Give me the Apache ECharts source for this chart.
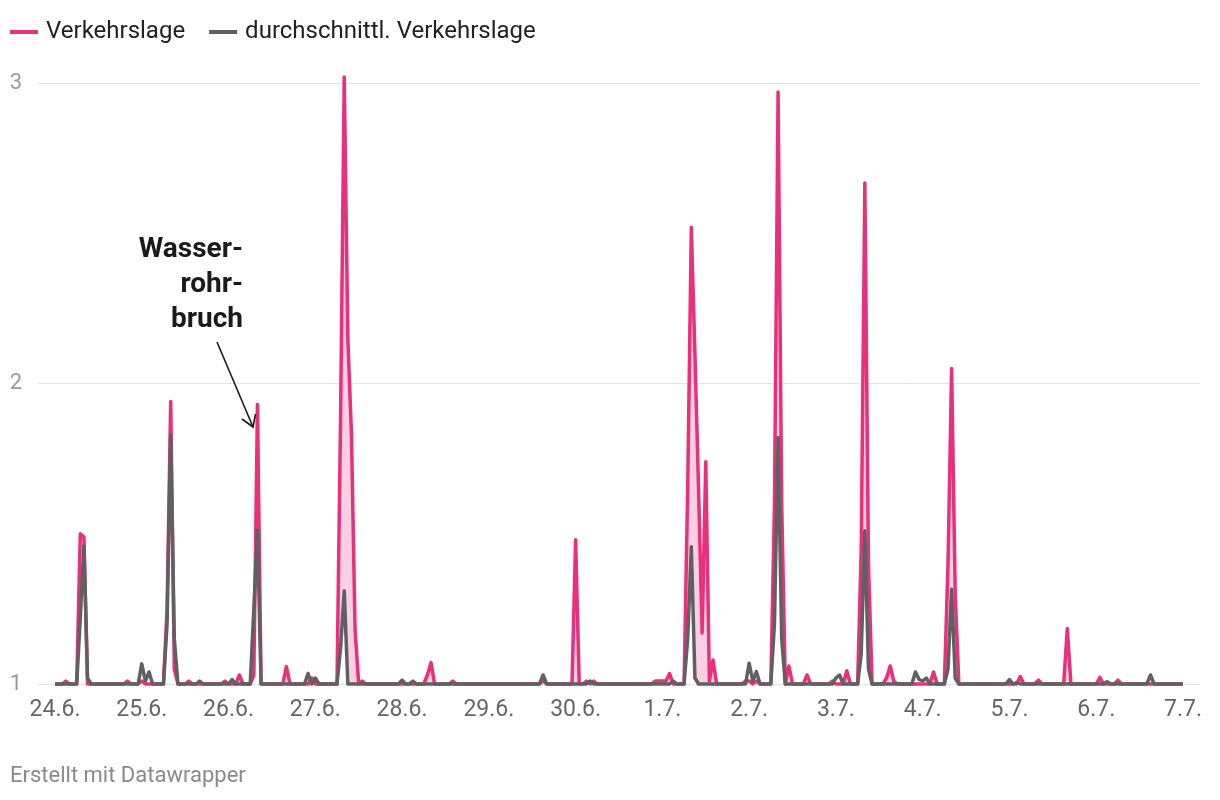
<!DOCTYPE html>
<html>
<head>
<meta charset="utf-8">
<script src="https://cdn.jsdelivr.net/npm/echarts@6/dist/echarts.min.js"></script>
<style>
  html, body { margin: 0; padding: 0; background: #ffffff; }
  #chart { width: 1220px; height: 800px; }
</style>
</head>
<body>
<div id="chart"></div>
<script>
// x-axis tick labels, one per day (midnight)
const tickLabels = ['24.6.','25.6.','26.6.','27.6.','28.6.','29.6.','30.6.','1.7.','2.7.','3.7.','4.7.','5.7.','6.7.','7.7.'];

// hourly values, 24.6. 00:00 .. 7.7. 00:00 (one line = one day, hours 0..23)
const verkehrslage = [
  1,1,1,1.01,1,1,1,1.50,1.49,1,1,1,1,1,1,1,1,1,1,1,1.01,1,1,1,            // 24.6.
  1.01,1,1,1,1,1,1,1.25,1.94,1.05,1,1,1,1.01,1,1,1,1,1,1,1,1,1,1.01,     // 25.6.
  1,1,1,1.03,1,1,1,1.03,1.93,1,1,1,1,1,1,1,1.058,1,1,1,1,1,1,1.02,       // 26.6.
  1,1,1,1,1,1,1,1.9,3.02,2.15,1.83,1.18,1,1.01,1,1,1,1,1,1,1,1,1,1,      // 27.6.
  1,1,1,1,1,1,1,1.03,1.071,1,1,1,1,1,1.01,1,1,1,1,1,1,1,1,1,             // 28.6.
  1,1,1,1,1,1,1,1,1,1,1,1,1,1,1,1.01,1,1,1,1,1,1,1,1,                    // 29.6.
  1.48,1,1,1.01,1,1.01,1,1,1,1,1,1,1,1,1,1,1,1,1,1,1,1,1.01,1.01,        // 30.6.
  1.01,1.01,1.035,1,1,1,1,1.65,2.52,2.1,1.65,1.17,1.74,1.01,1.08,1,1,1,1,1,1,1,1,1.01, // 1.7.
  1.01,1,1.01,1,1,1,1,1.6,2.97,1.6,1,1.06,1,1,1,1,1.03,1,1,1,1,1,1,1.01, // 2.7.
  1,1,1,1.044,1,1,1,1.45,2.667,1.4,1,1,1,1,1.02,1.06,1.01,1,1,1,1,1,1,1, // 3.7.
  1,1,1,1.04,1,1,1,1.4,2.05,1.3,1,1,1,1,1,1,1,1,1,1,1,1,1,1,             // 4.7.
  1,1,1,1.025,1,1,1,1,1.013,1,1,1,1,1,1,1,1.185,1,1,1,1,1,1,1,           // 5.7.
  1,1.022,1,1,1,1,1.013,1,1,1,1,1,1,1,1,1,1,1,1,1,1,1,1,1,               // 6.7.
  1                                                                      // 7.7.
];
const durchschnitt = [
  1,1,1,1,1,1,1,1.22,1.46,1.02,1,1,1,1,1,1,1,1,1,1,1,1,1,1,              // 24.6.
  1.067,1.01,1.04,1,1,1,1,1.2,1.83,1.15,1,1,1,1,1,1,1.01,1,1,1,1,1,1,1,  // 25.6.
  1,1.015,1,1,1,1,1,1.25,1.51,1,1,1,1,1,1,1,1,1,1,1,1,1,1.035,1,         // 26.6.
  1.02,1,1,1,1,1,1,1.12,1.31,1,1,1,1,1,1,1,1,1,1,1,1,1,1,1,              // 27.6.
  1.013,1,1,1.01,1,1,1,1,1,1,1,1,1,1,1,1,1,1,1,1,1,1,1,1,                // 28.6.
  1,1,1,1,1,1,1,1,1,1,1,1,1,1,1,1.03,1,1,1,1,1,1,1,1,                    // 29.6.
  1,1,1,1,1.01,1,1,1,1,1,1,1,1,1,1,1,1,1,1,1,1,1,1,1,                    // 30.6.
  1,1,1,1.01,1,1,1,1.15,1.457,1.02,1,1,1,1,1,1,1,1,1,1,1,1,1,1,          // 1.7.
  1.069,1.01,1.041,1,1,1,1,1.2,1.82,1.15,1,1,1,1,1,1,1,1,1,1,1,1,1,1,    // 2.7.
  1.02,1.03,1,1,1,1,1,1.1,1.51,1.05,1,1,1,1,1,1,1,1,1,1,1,1,1.04,1.015,  // 3.7.
  1.01,1.02,1,1,1,1,1,1.05,1.315,1.02,1,1,1,1,1,1,1,1,1,1,1,1,1,1,       // 4.7.
  1.015,1,1.005,1,1,1,1,1,1,1,1,1,1,1,1,1,1,1,1,1,1,1,1,1,               // 5.7.
  1,1,1,1.008,1,1,1,1,1,1,1,1,1,1,1,1.03,1,1,1,1,1,1,1,1,                // 6.7.
  1                                                                      // 7.7.
];

const PINK = '#e8307b';
const GRAY = '#606060';
const FILL = '#f8cfe3';
const FONT = 'Roboto, "Noto Sans", sans-serif';

const pinkData = verkehrslage.map((v, i) => [i, v]);
const grayData = durchschnitt.map((v, i) => [i, v]);
const lastHour = verkehrslage.length - 1;

const chart = echarts.init(document.getElementById('chart'), null, { renderer: 'canvas' });
chart.setOption({
  animation: false,
  backgroundColor: '#ffffff',
  textStyle: { fontFamily: FONT },
  legend: {
    left: 10, top: 20, padding: 0,
    icon: 'rect', itemWidth: 28, itemHeight: 4, itemGap: 24,
    data: ['Verkehrslage', 'durchschnittl. Verkehrslage'],
    textStyle: { fontFamily: FONT, fontSize: 24, color: '#222', padding: [0, 0, 0, 3] },
    selectedMode: false
  },
  grid: [
    { left: 55, right: 37, top: 83, bottom: 116 },
    { left: 38, right: 20, top: 83, bottom: 116 }
  ],
  xAxis: [
    {
      type: 'value', gridIndex: 0, min: 0, max: lastHour, interval: 24,
      axisLine: { show: false }, axisTick: { show: false }, splitLine: { show: false },
      axisLabel: {
        color: '#666', fontSize: 23, fontFamily: FONT, margin: 15,
        formatter: v => tickLabels[Math.round(v / 24)] || ''
      }
    },
    { type: 'value', gridIndex: 1, min: 0, max: 1, show: false }
  ],
  yAxis: [
    { type: 'value', gridIndex: 0, min: 1, max: 3, interval: 1, show: false },
    {
      type: 'value', gridIndex: 1, min: 1, max: 3, interval: 1,
      axisLine: { show: false }, axisTick: { show: false },
      splitLine: { show: true, lineStyle: { color: '#e3e3e3', width: 1 } },
      axisLabel: { color: '#9a9a9a', fontSize: 22, fontFamily: FONT, margin: 16 }
    }
  ],
  series: [
    {
      // light pink area under the Verkehrslage line
      name: 'fillPink', type: 'line', data: pinkData, symbol: 'none',
      lineStyle: { opacity: 0 }, areaStyle: { color: FILL, opacity: 1, origin: 'start' },
      silent: true, clip: false, z: 1
    },
    {
      // white mask under the average line, so only the gap between the lines stays filled
      name: 'maskGray', type: 'line', data: grayData, symbol: 'none',
      lineStyle: { opacity: 0 }, areaStyle: { color: '#ffffff', opacity: 1, origin: 'start' },
      silent: true, clip: false, z: 1
    },
    {
      name: 'Verkehrslage', type: 'line', data: pinkData, symbol: 'none',
      color: PINK, lineStyle: { color: PINK, width: 3.5, join: 'round' }, clip: false, z: 2
    },
    {
      name: 'durchschnittl. Verkehrslage', type: 'line', data: grayData, symbol: 'none',
      color: GRAY, lineStyle: { color: GRAY, width: 3.5, join: 'round' }, clip: false, z: 3
    }
  ],
  graphic: [
    {
      type: 'text', x: 243, y: 232, z: 10,
      style: {
        text: 'Wasser-\nrohr-\nbruch', align: 'right', verticalAlign: 'top',
        font: 'bold 28px ' + FONT, fill: '#1a1a1a', lineHeight: 35
      }
    },
    {
      type: 'line', z: 10,
      shape: { x1: 217, y1: 342, x2: 253, y2: 427 },
      style: { stroke: '#1a1a1a', lineWidth: 1.6 }
    },
    {
      type: 'polyline', z: 10,
      shape: { points: [[242, 419], [253, 427], [255.5, 414]] },
      style: { stroke: '#1a1a1a', lineWidth: 1.6, fill: null }
    },
    {
      type: 'text', x: 10, y: 765, z: 10,
      style: { text: 'Erstellt mit Datawrapper', font: '22px ' + FONT, fill: '#8a8a8a' }
    }
  ]
});
</script>
</body>
</html>
